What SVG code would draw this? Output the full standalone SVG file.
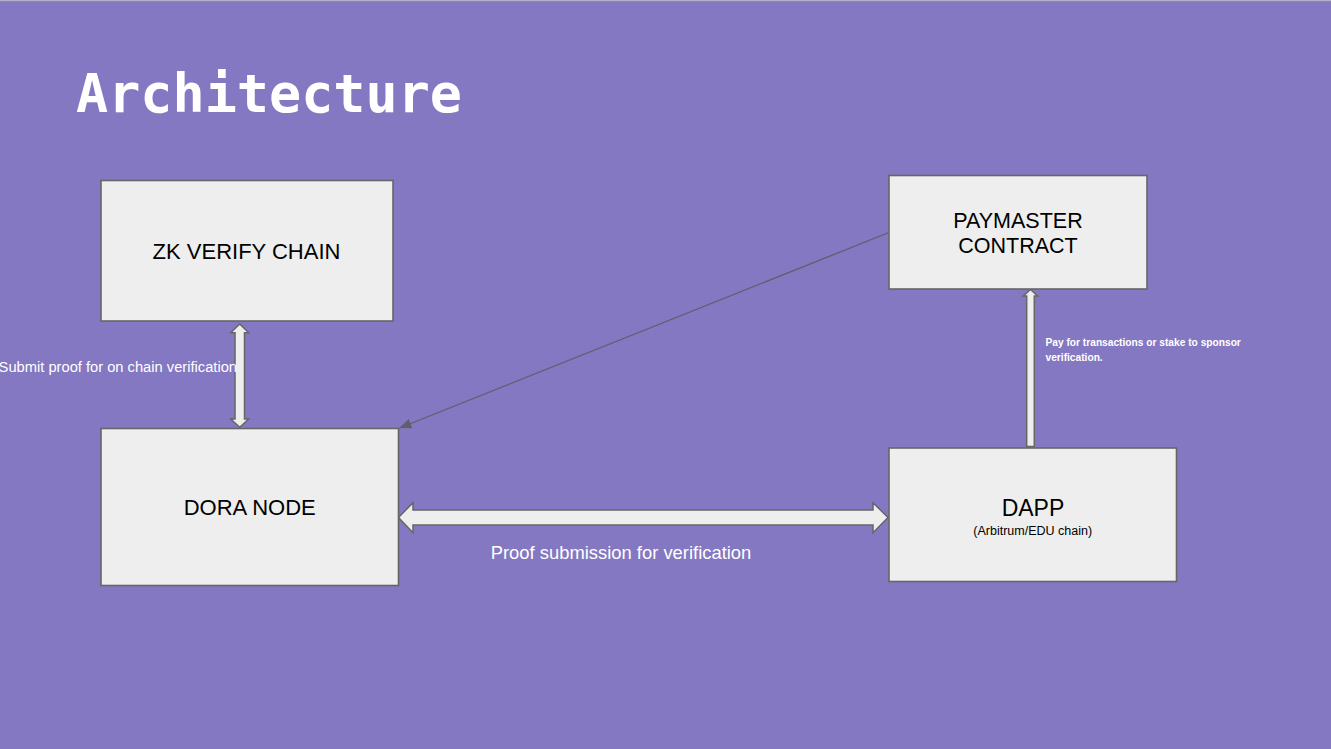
<svg xmlns="http://www.w3.org/2000/svg" width="1331" height="749" viewBox="0 0 1331 749">
<defs>
<style>
.bg{fill:#8478c2}
.box{fill:#eeeeee;stroke:#666666;stroke-width:1.6}
.lbl{font-family:"Liberation Sans",Arial,sans-serif;fill:#000000;text-anchor:middle}
.wt{font-family:"Liberation Sans",Arial,sans-serif;fill:#ffffff}
.blk{fill:#eeeeee;stroke:#666666;stroke-width:1.5;stroke-linejoin:miter}
.ln{stroke:#5f5f6a;stroke-width:1.3;fill:none}
</style>
<marker id="ah" viewBox="0 0 12 10" refX="12" refY="5" markerWidth="12" markerHeight="10" markerUnits="userSpaceOnUse" orient="auto">
<path d="M0,0 L12,5 L0,10 z" fill="#5f5f6a"/>
</marker>
</defs>
<rect class="bg" x="0" y="0" width="1331" height="749"/>
<rect x="0" y="0" width="1331" height="1.2" fill="#b4afc9"/>
<text x="76" y="112" font-family="DejaVu Sans Mono,Liberation Mono,monospace" font-weight="bold" font-size="54" fill="#ffffff" textLength="386" lengthAdjust="spacingAndGlyphs">Architecture</text>

<g id="connectors">
<path class="blk" d="M239.7,324 L248.7,332.7 L244.5,332.7 L244.5,419 L248.7,419 L239.7,427.3 L230.7,419 L235,419 L235,332.7 L230.7,332.7 Z"/>
<path class="blk" d="M398.5,517.5 L413,502.7 L413,510 L873,510 L873,502.7 L888,517.5 L873,532.7 L873,525 L413,525 L413,532.7 Z"/>
<path class="blk" d="M1030.5,289.5 L1037.7,296 L1034.3,296 L1034.3,446.5 L1026.7,446.5 L1026.7,296 L1023.3,296 Z"/>
<line class="ln" x1="889" y1="232.5" x2="399.5" y2="428" marker-end="url(#ah)"/>
<text class="wt" x="237" y="372" font-size="14.7" text-anchor="end">Submit proof for on chain verification</text>
<text class="wt" x="621" y="559" font-size="18.4" text-anchor="middle">Proof submission for verification</text>
<text class="wt" x="1045.5" y="346" font-size="10.2" font-weight="bold">Pay for transactions or stake to sponsor</text>
<text class="wt" x="1045.5" y="361" font-size="10.2" font-weight="bold">verification.</text>
</g>

<g id="zk-verify-chain">
<rect class="box" x="101" y="180.5" width="292" height="140.5"/>
<text class="lbl" x="246.5" y="258.5" font-size="22">ZK VERIFY CHAIN</text>
</g>
<g id="dora-node">
<rect class="box" x="101" y="428.5" width="297.5" height="157"/>
<text class="lbl" x="249.7" y="515" font-size="22">DORA NODE</text>
</g>
<g id="paymaster-contract">
<rect class="box" x="889" y="175.5" width="258" height="113.5"/>
<text class="lbl" x="1018" y="227.5" font-size="21.5">PAYMASTER</text>
<text class="lbl" x="1018" y="252.5" font-size="21.5">CONTRACT</text>
</g>
<g id="dapp">
<rect class="box" x="889" y="448" width="287.5" height="133.5"/>
<text class="lbl" x="1033" y="516" font-size="23">DAPP</text>
<text class="lbl" x="1032.7" y="534.5" font-size="12.5">(Arbitrum/EDU chain)</text>
</g>
</svg>
